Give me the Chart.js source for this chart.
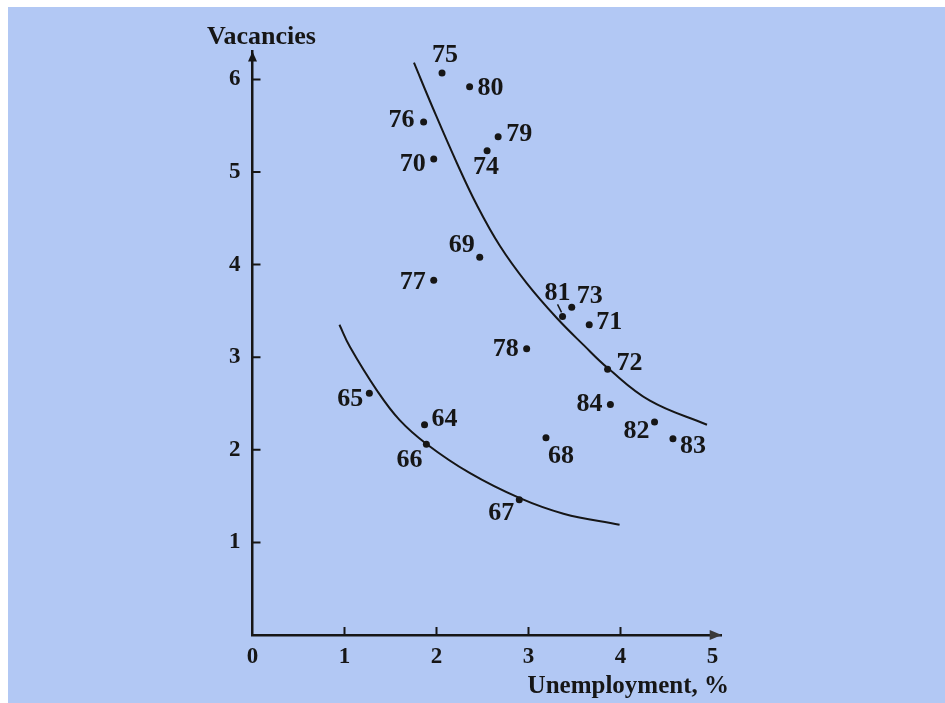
<!DOCTYPE html>
<html>
<head>
<meta charset="utf-8">
<title>Vacancies vs unemployment</title>
<script src="https://cdn.jsdelivr.net/npm/chart.js@4/dist/chart.umd.min.js"></script>
<style>
  html, body { margin: 0; padding: 0; background: #ffffff; }
  #panel { position: absolute; left: 8px; top: 7px; width: 937px; height: 696px; background: #b2c8f4; }
  #chart { position: absolute; left: 0; top: 0; }
</style>
</head>
<body>
<div id="panel"></div>
<canvas id="chart" width="945" height="703" style="width:945px;height:703px"></canvas>
<script>
// yearly observations (year label, unemployment %, vacancies)
const years = ['64', '65', '66', '67', '68', '69', '70', '71', '72', '73', '74',
               '75', '76', '77', '78', '79', '80', '81', '82', '83', '84'];
const unemployment = [1.87, 1.27, 1.89, 2.90, 3.19, 2.47, 1.97, 3.66, 3.86, 3.47, 2.55,
                      2.06, 1.86, 1.97, 2.98, 2.67, 2.36, 3.37, 4.37, 4.57, 3.89];
const vacancies = [2.27, 2.61, 2.06, 1.46, 2.13, 4.08, 5.14, 3.35, 2.87, 3.54, 5.23,
                   6.07, 5.54, 3.83, 3.09, 5.38, 5.92, 3.44, 2.30, 2.12, 2.49];

// the two hand-drawn curves
const upperCurveX = [1.755, 1.965, 2.22, 2.44, 2.69, 2.98, 3.31, 3.60, 3.865, 4.32, 4.94];
const upperCurveY = [6.18, 5.68, 5.10, 4.64, 4.20, 3.80, 3.42, 3.13, 2.88, 2.53, 2.27];
const lowerCurveX = [0.945, 1.06, 1.35, 1.60, 1.895, 2.36, 2.90, 3.38, 3.99];
const lowerCurveY = [3.35, 3.11, 2.645, 2.32, 2.06, 1.75, 1.48, 1.31, 1.19];

const xTicks = [0, 1, 2, 3, 4, 5];
const yTicks = [1, 2, 3, 4, 5, 6];
const xTickMarks = [1, 2, 3, 4];

// where each year label sits next to its dot: [dx, dy, align]
const labelPlacement = {
  '64': [7, -6, 'left'], '65': [-6, 6, 'right'], '66': [-4, 16, 'right'],
  '67': [-5, 13, 'right'], '68': [2, 19, 'left'], '69': [-5, -12, 'right'],
  '70': [-8, 5, 'right'], '71': [7, -2, 'left'], '72': [9, -6, 'left'],
  '73': [5, -11, 'left'], '74': [-1, 17, 'center'], '75': [3, -18, 'center'],
  '76': [-9, -2, 'right'], '77': [-8, 2, 'right'], '78': [-8, 0, 'right'],
  '79': [8, -3, 'left'], '80': [8, 1, 'left'], '81': [-5, -23, 'center'],
  '82': [-5, 9, 'right'], '83': [7, 8, 'left'], '84': [-8, 0, 'right']
};

const ink = '#161616';
const serif = "'Liberation Serif', 'DejaVu Serif', serif";

const decorations = {
  id: 'decorations',
  afterDraw(chart) {
    const c = chart.ctx;
    const area = chart.chartArea;
    const xs = chart.scales.x;
    const ys = chart.scales.y;
    const x0 = xs.getPixelForValue(0);
    const y0 = ys.getPixelForValue(0);
    c.save();

    // inward tick marks
    c.strokeStyle = ink;
    c.lineWidth = 2;
    c.beginPath();
    yTicks.forEach(v => {
      const py = ys.getPixelForValue(v);
      c.moveTo(x0, py);
      c.lineTo(x0 + 8, py);
    });
    xTickMarks.forEach(v => {
      const px = xs.getPixelForValue(v);
      c.moveTo(px, y0);
      c.lineTo(px, y0 - 8);
    });
    c.stroke();

    // arrow heads
    c.fillStyle = ink;
    c.beginPath();
    c.moveTo(x0, area.top);
    c.lineTo(x0 - 4.5, area.top + 10);
    c.lineTo(x0 + 4.5, area.top + 10);
    c.closePath();
    c.fill();
    c.fillStyle = '#3a3a3a';
    c.beginPath();
    c.moveTo(area.right, y0);
    c.lineTo(area.right - 12, y0 - 5);
    c.lineTo(area.right - 12, y0 + 5);
    c.closePath();
    c.fill();

    // axis titles
    c.fillStyle = ink;
    c.textBaseline = 'middle';
    c.textAlign = 'left';
    c.font = 'bold 26px ' + serif;
    c.fillText('Vacancies', 207, 37);
    c.textAlign = 'right';
    c.font = 'bold 25px ' + serif;
    c.fillText('Unemployment, %', 729, 687);

    // year labels
    const meta = chart.getDatasetMeta(0);
    c.font = 'bold 26px ' + serif;
    meta.data.forEach((pt, i) => {
      const p = labelPlacement[years[i]];
      c.textAlign = p[2];
      c.fillText(years[i], pt.x + p[0], pt.y + p[1]);
      if (years[i] === '81') {
        c.lineWidth = 1.5;
        c.beginPath();
        c.moveTo(pt.x - 5, pt.y - 12);
        c.lineTo(pt.x - 1, pt.y - 4);
        c.stroke();
      }
    });
    c.restore();
  }
};

new Chart(document.getElementById('chart'), {
  type: 'scatter',
  data: {
    datasets: [
      {
        label: 'Years',
        data: years.map((y, i) => ({ x: unemployment[i], y: vacancies[i] })),
        pointRadius: 3.5,
        pointBackgroundColor: ink,
        pointBorderWidth: 0
      },
      {
        label: 'Upper curve',
        data: upperCurveX.map((x, i) => ({ x: x, y: upperCurveY[i] })),
        showLine: true,
        pointRadius: 0,
        borderColor: ink,
        borderWidth: 2,
        tension: 0.4
      },
      {
        label: 'Lower curve',
        data: lowerCurveX.map((x, i) => ({ x: x, y: lowerCurveY[i] })),
        showLine: true,
        pointRadius: 0,
        borderColor: ink,
        borderWidth: 2,
        tension: 0.4
      }
    ]
  },
  options: {
    responsive: false,
    animation: false,
    events: [],
    layout: { padding: { left: 200, right: 223.3, top: 51.6, bottom: 0 } },
    plugins: { legend: { display: false }, tooltip: { enabled: false } },
    scales: {
      x: {
        type: 'linear',
        min: 0,
        max: 5.1,
        afterBuildTicks: s => { s.ticks = xTicks.map(v => ({ value: v })); },
        afterFit: s => { s.height = 68; },
        grid: { drawOnChartArea: false, drawTicks: false },
        border: { display: true, color: ink, width: 2.5 },
        ticks: { padding: 8, color: ink, font: { family: serif, size: 23, weight: 'bold' } }
      },
      y: {
        type: 'linear',
        min: 0,
        max: 6.3,
        afterBuildTicks: s => { s.ticks = yTicks.map(v => ({ value: v })); },
        afterFit: s => { s.width = 52.5; },
        grid: { drawOnChartArea: false, drawTicks: false },
        border: { display: true, color: ink, width: 2.5 },
        ticks: { padding: 12, color: ink, font: { family: serif, size: 23, weight: 'bold' } }
      }
    }
  },
  plugins: [decorations]
});
</script>
</body>
</html>
